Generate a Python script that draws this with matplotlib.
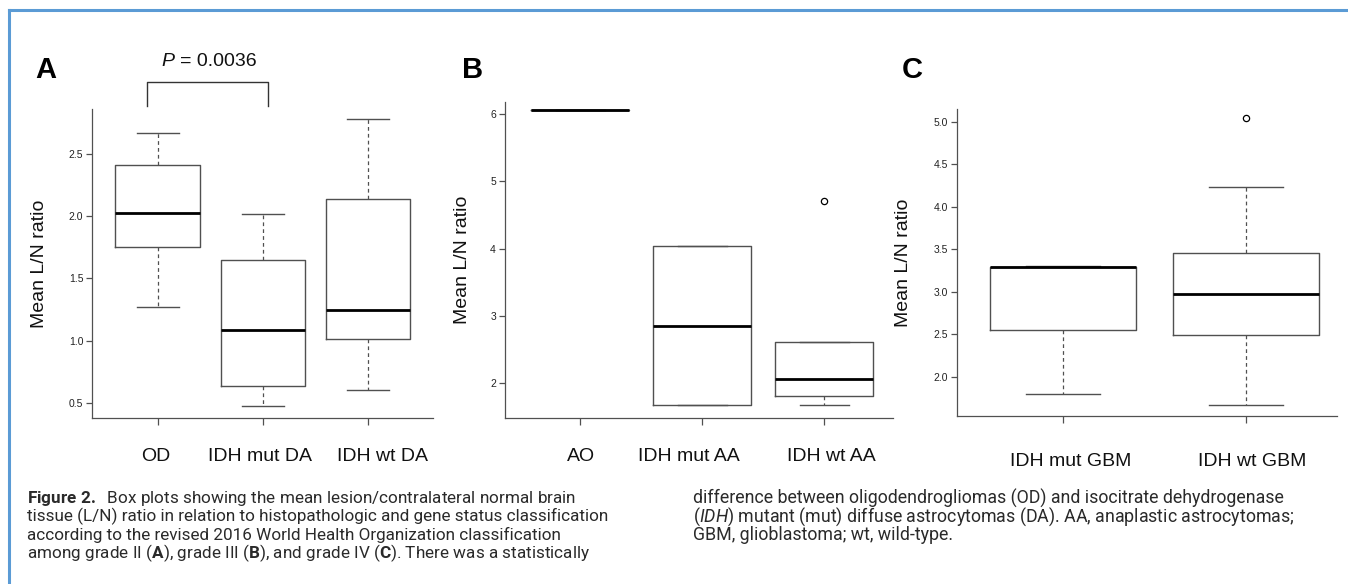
import numpy as np
import matplotlib.pyplot as plt
from matplotlib.lines import Line2D
import matplotlib.transforms as mtransforms

plt.rcParams['font.family'] = ['Liberation Sans', 'DejaVu Sans']
plt.rcParams['mathtext.fontset'] = 'custom'
plt.rcParams['mathtext.rm'] = 'Roboto'
plt.rcParams['mathtext.bf'] = 'Roboto:bold'
plt.rcParams['mathtext.it'] = 'Roboto:italic'

# ---- data ----
# A: grade II
cats_a = ["OD", "IDH mut DA", "IDH wt DA"]
lo_a = [1.27, 0.47, 0.60]
q1_a = [1.75, 0.635, 1.016]
med_a = [2.03, 1.083, 1.244]
q3_a = [2.416, 1.645, 2.137]
hi_a = [2.672, 2.021, 2.782]
fl_a = [[], [], []]

# B: grade III
cats_b = ["AO", "IDH mut AA", "IDH wt AA"]
lo_b = [6.05, 1.683, 1.674]
q1_b = [6.05, 1.683, 1.812]
med_b = [6.05, 2.856, 2.06]
q3_b = [6.05, 4.03, 2.608]
hi_b = [6.05, 4.03, 2.608]
fl_b = [[], [], [4.708]]

# C: grade IV
cats_c = ["IDH mut GBM", "IDH wt GBM"]
lo_c = [1.804, 1.675]
q1_c = [2.547, 2.488]
med_c = [3.29, 2.977]
q3_c = [3.297, 3.457]
hi_c = [3.305, 4.235]
fl_c = [[], [5.04]]

W, H = 1348, 584
fig = plt.figure(figsize=(W / 100, H / 100), dpi=100)


def rect(l, t, r, b):
    return [l / W, 1 - b / H, (r - l) / W, (b - t) / H]


def panel(r, cats, lo, q1, med, q3, hi, fl, xlim, ylim, yticks, yfmt, ylab_x, xpad, shifts):
    ax = fig.add_axes(r)
    stats = []
    for i in range(len(cats)):
        stats.append(dict(whislo=lo[i], q1=q1[i], med=med[i], q3=q3[i],
                          whishi=hi[i], fliers=fl[i], label=cats[i]))
    gray = '#505050'
    ax.bxp(stats, widths=0.8, capwidths=0.4, showfliers=True,
           boxprops=dict(color=gray, linewidth=1.0),
           medianprops=dict(color='black', linewidth=2.0),
           whiskerprops=dict(color=gray, linewidth=0.9, linestyle=(0, (3, 2.5))),
           capprops=dict(color=gray, linewidth=1.0),
           flierprops=dict(marker='o', markerfacecolor='none', markeredgecolor='black',
                           markersize=4.5, markeredgewidth=0.9))
    ax.set_xlim(*xlim)
    ax.set_ylim(*ylim)
    ax.set_yticks(yticks)
    ax.set_yticklabels([yfmt.format(v) for v in yticks])
    for s in ['top', 'right']:
        ax.spines[s].set_visible(False)
    for s in ['left', 'bottom']:
        ax.spines[s].set_color(gray)
        ax.spines[s].set_linewidth(0.9)
    ax.tick_params(axis='y', length=4.5, width=0.9, color=gray, labelsize=7.5,
                   pad=2, labelcolor='#222222')
    ax.tick_params(axis='x', length=5, width=0.9, color=gray, labelsize=14,
                   pad=xpad, labelcolor='#111111')
    # small horizontal offsets of the category labels (pixels)
    for lbl, dx in zip(ax.get_xticklabels(), shifts):
        lbl.set_transform(lbl.get_transform() +
                          mtransforms.ScaledTranslation(dx / 100, 0, fig.dpi_scale_trans))
    ax.set_ylabel("Mean L/N ratio", fontsize=14, color='#111111')
    ax.yaxis.set_label_coords(ylab_x, 0.5)
    ax.patch.set_alpha(0)
    return ax


ax_a = panel(rect(92.3, 109, 433.3, 417.7), cats_a, lo_a, q1_a, med_a, q3_a, hi_a, fl_a,
             (0.38, 3.62), (0.379, 2.865), [0.5, 1.0, 1.5, 2.0, 2.5], "{:.1f}", -0.129, 17,
             [-2, -3, 14])
ax_b = panel(rect(505, 102.3, 893.3, 417.7), cats_b, lo_b, q1_b, med_b, q3_b, hi_b, fl_b,
             (0.383, 3.566), (1.49, 6.169), [2, 3, 4, 5, 6], "{:d}", -0.0876, 17,
             [1, -13, 7])
ax_c = panel(rect(957.3, 109.3, 1336.7, 416), cats_c, lo_c, q1_c, med_c, q3_c, hi_c, fl_c,
             (0.422, 2.496), (1.542, 5.146), [2.0, 2.5, 3.0, 3.5, 4.0, 4.5, 5.0], "{:.1f}", -0.1186, 22,
             [8, 6])

# significance bracket between OD and IDH mut DA
tr = mtransforms.blended_transform_factory(ax_a.transData, ax_a.transAxes)
bx = [0.9, 0.9, 2.05, 2.05]
by = [1.01, 1.087, 1.087, 1.01]
ax_a.add_line(Line2D(bx, by, transform=tr, color='#333333', linewidth=1.0, clip_on=False))
fig.text(174 / W, 1 - 66.5 / H, "P", fontsize=14, style='italic', ha='right', va='baseline',
         color='#111111')
fig.text(180 / W, 1 - 66.5 / H, "= 0.0036", fontsize=14, ha='left', va='baseline',
         color='#111111')

# panel letters
for lab, x in [("A", 35), ("B", 461.7), ("C", 901.7)]:
    fig.text(x / W, 1 - 78 / H, lab, fontsize=21, fontweight='bold', ha='left', va='baseline')

# blue frame
fig.add_artist(Line2D([8.5 / W, 1], [1 - 10 / H, 1 - 10 / H], color='#5b9bd5', linewidth=2.2))
fig.add_artist(Line2D([8.5 / W, 8.5 / W], [0, 1 - 10 / H], color='#5b9bd5', linewidth=2.2))

# caption
left_lines = [
    r"$\mathbf{Figure\ 2.}$  Box plots showing the mean lesion/contralateral normal brain",
    "tissue (L/N) ratio in relation to histopathologic and gene status classification",
    "according to the revised 2016 World Health Organization classification",
    r"among grade II ($\mathbf{A}$), grade III ($\mathbf{B}$), and grade IV ($\mathbf{C}$). There was a statistically",
]
right_lines = [
    "difference between oligodendrogliomas (OD) and isocitrate dehydrogenase",
    r"$\mathit{(IDH}$) mutant (mut) diffuse astrocytomas (DA). AA, anaplastic astrocytomas;",
    "GBM, glioblastoma; wt, wild-type.",
]
cap_font = ['Roboto', 'DejaVu Sans']
for i, s in enumerate(left_lines):
    fig.text(27 / W, 1 - (503 + 18.4 * i) / H, s, fontsize=12.3, family=cap_font,
             ha='left', va='baseline', color='#2a2a2a')
for i, s in enumerate(right_lines):
    fig.text(693 / W, 1 - (503.5 + 18.4 * i) / H, s, fontsize=12.8, family=cap_font,
             ha='left', va='baseline', color='#2a2a2a')

fig.savefig("out.png", dpi=100)
